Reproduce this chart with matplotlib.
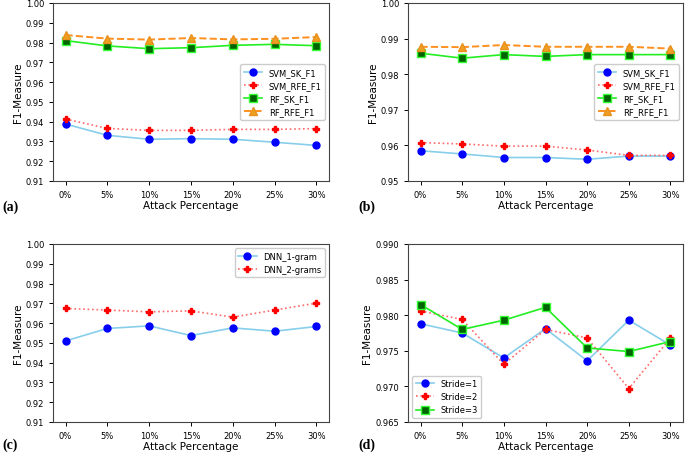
import matplotlib
matplotlib.use("Agg")
import matplotlib.pyplot as plt

attack = ['0%', '5%', '10%', '15%', '20%', '25%', '30%']

# panel (a)
a_svm_sk = [0.9388, 0.9331, 0.9311, 0.9314, 0.9311, 0.9296, 0.9280]
a_svm_rfe = [0.9413, 0.9366, 0.9356, 0.9356, 0.9361, 0.9361, 0.9365]
a_rf_sk = [0.9810, 0.9783, 0.9769, 0.9774, 0.9786, 0.9791, 0.9784]
a_rf_rfe = [0.9838, 0.9820, 0.9815, 0.9823, 0.9816, 0.9819, 0.9828]

# panel (b)
b_svm_sk = [0.9585, 0.9576, 0.9566, 0.9566, 0.9561, 0.9570, 0.9570]
b_svm_rfe = [0.9608, 0.9604, 0.9598, 0.9598, 0.9587, 0.9572, 0.9572]
b_rf_sk = [0.9859, 0.9845, 0.9855, 0.9850, 0.9855, 0.9855, 0.9855]
b_rf_rfe = [0.9877, 0.9876, 0.9882, 0.9877, 0.9877, 0.9877, 0.9872]

# panel (c)
c_dnn_1 = [0.9510, 0.9573, 0.9586, 0.9537, 0.9576, 0.9559, 0.9583]
c_dnn_2 = [0.9674, 0.9666, 0.9657, 0.9662, 0.9630, 0.9666, 0.9701]

# panel (d)
d_stride1 = [0.9788, 0.9775, 0.9740, 0.9781, 0.9736, 0.9793, 0.9758]
d_stride2 = [0.9806, 0.9794, 0.9731, 0.9780, 0.9768, 0.9697, 0.9768]
d_stride3 = [0.9815, 0.9780, 0.9793, 0.9811, 0.9754, 0.9749, 0.9763]

STYLES = {
    'blue': dict(color='#87ceeb', linestyle='-', marker='o', markersize=5,
                 markerfacecolor='blue', markeredgecolor='blue', lw=1.2),
    'red': dict(color='#ff6a6a', linestyle=':', marker='P', markersize=4.6,
                markerfacecolor='red', markeredgecolor='red', lw=1.2),
    'green': dict(color='#22ee22', linestyle='-', marker='s', markersize=6,
                  markerfacecolor='#006400', markeredgecolor='#33ff33',
                  lw=1.2),
    'orange': dict(color='#ff9020', linestyle='--', marker='^',
                   markersize=6, markerfacecolor='#f0a020',
                   markeredgecolor='#e89020', lw=1.4),
}

fig = plt.figure(figsize=(6.85, 4.56), dpi=100)
W, H = 685.0, 456.0


def make_ax(left, top, right, bottom):
    return fig.add_axes([left / W, (H - bottom) / H,
                         (right - left) / W, (bottom - top) / H])


def finish(ax, ylim, yticks, fmt, legend_loc):
    x = range(len(attack))
    ax.set_xticks(list(x))
    ax.set_xticklabels(attack)
    ax.set_ylim(*ylim)
    ax.set_yticks(yticks)
    ax.set_yticklabels([fmt.format(t) for t in yticks])
    ax.tick_params(labelsize=6, length=3, width=0.7)
    ax.set_xlabel('Attack Percentage', fontsize=7.5, labelpad=1)
    ax.set_ylabel('F1-Measure', fontsize=7.5, labelpad=2)
    for s in ax.spines.values():
        s.set_linewidth(0.8)
        s.set_color('#444444')
    ax.legend(loc=legend_loc, fontsize=6, framealpha=1,
              edgecolor='#cccccc', handlelength=2.2)


x = list(range(len(attack)))

ax_a = make_ax(53, 4, 329, 182)
ax_a.plot(x, a_svm_sk, label='SVM_SK_F1', **STYLES['blue'])
ax_a.plot(x, a_svm_rfe, label='SVM_RFE_F1', **STYLES['red'])
ax_a.plot(x, a_rf_sk, label='RF_SK_F1', **STYLES['green'])
ax_a.plot(x, a_rf_rfe, label='RF_RFE_F1', **STYLES['orange'])
finish(ax_a, (0.91, 1.0), [0.91 + 0.01 * i for i in range(10)],
       '{:.2f}', 'center right')

ax_b = make_ax(408, 4, 683, 182)
ax_b.plot(x, b_svm_sk, label='SVM_SK_F1', **STYLES['blue'])
ax_b.plot(x, b_svm_rfe, label='SVM_RFE_F1', **STYLES['red'])
ax_b.plot(x, b_rf_sk, label='RF_SK_F1', **STYLES['green'])
ax_b.plot(x, b_rf_rfe, label='RF_RFE_F1', **STYLES['orange'])
finish(ax_b, (0.95, 1.0), [0.95 + 0.01 * i for i in range(6)],
       '{:.2f}', 'center right')

ax_c = make_ax(53, 245, 329, 423)
ax_c.plot(x, c_dnn_1, label='DNN_1-gram', **STYLES['blue'])
ax_c.plot(x, c_dnn_2, label='DNN_2-grams', **STYLES['red'])
finish(ax_c, (0.91, 1.0), [0.91 + 0.01 * i for i in range(10)],
       '{:.2f}', 'upper right')

ax_d = make_ax(408, 245, 683, 423)
ax_d.plot(x, d_stride1, label='Stride=1', **STYLES['blue'])
ax_d.plot(x, d_stride2, label='Stride=2', **STYLES['red'])
ax_d.plot(x, d_stride3, label='Stride=3', **STYLES['green'])
finish(ax_d, (0.965, 0.990), [0.965 + 0.005 * i for i in range(6)],
       '{:.3f}', 'lower left')

for lab, px, py in [('(a)', 2, 207), ('(b)', 358, 207),
                    ('(c)', 2, 445), ('(d)', 358, 445)]:
    fig.text(px / W, (H - py) / H, lab, fontsize=10, fontweight='bold',
             family='Liberation Serif', va='center', ha='left')

fig.savefig('out.png', dpi=100)
